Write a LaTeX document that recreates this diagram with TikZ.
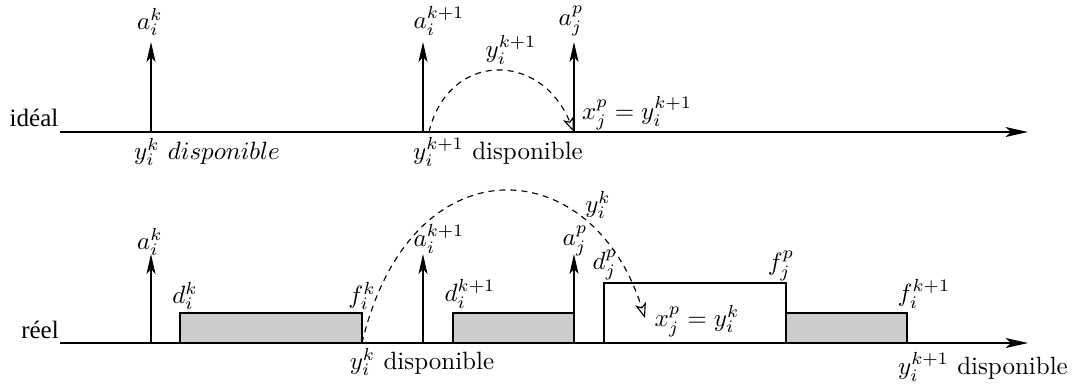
\documentclass[tikz,border=0pt]{standalone}
\usepackage{fontspec}
\newfontfamily\timesfont{Liberation Serif}
\usetikzlibrary{arrows.meta}
\begin{document}
\begin{tikzpicture}[x=0.4pt,y=-0.4pt,
  lbl/.style={inner sep=0pt},
  axisline/.style={line width=0.5pt,-{Stealth[length=9pt,width=4pt,inset=2.2pt]}},
  vert/.style={line width=0.5pt,-{Stealth[length=8pt,width=3.6pt,inset=2pt]}},
  jump/.style={line width=0.45pt,dash pattern=on 2.4pt off 2pt,-{Stealth[open,length=6pt,width=4.5pt,inset=1.5pt]}},
  busy/.style={draw,line width=0.5pt,fill=black!20},
  freebox/.style={draw,line width=0.5pt,fill=white}]
\useasboundingbox (0,0) rectangle (1085,383);
% ---------- ideal ----------
\coordinate (t0) at (60,132);
\coordinate (t1) at (1028,132);
\draw[axisline] (t0) -- (t1);
\node[lbl,font=\timesfont] (ideal) at (34,118) {idéal};
\coordinate (ta1) at (151,132); \coordinate (ta1t) at (151,42);
\coordinate (ta2) at (423,132); \coordinate (ta2t) at (423,42);
\coordinate (ta3) at (574,132); \coordinate (ta3t) at (574,42);
\draw[vert] (ta1) -- (ta1t);
\draw[vert] (ta2) -- (ta2t);
\draw[vert] (ta3) -- (ta3t);
\node[lbl] (tl1) at (150,22) {$a_i^k$};
\node[lbl] (tl2) at (439,21) {$a_i^{k+1}$};
\node[lbl] (tl3) at (571,21) {$a_j^p$};
\coordinate (tj0) at (429,132);
\draw[jump] (tj0) .. controls (448,52) and (540,50) .. (ta3);
\node[lbl] (tyl) at (511,50) {$y_i^{k+1}$};
\node[lbl] (txl) at (637,113) {$x_j^p = y_i^{k+1}$};
\node[lbl] (td1) at (207,152) {$y_i^k~disponible$};
\node[lbl] (td2) at (498,152) {$y_i^{k+1}$ disponible};
% ---------- reel ----------
\path[busy] (180,313) rectangle (362,343);
\path[busy] (453,313) rectangle (574,343);
\path[freebox] (604,283) rectangle (786,343);
\path[busy] (786,313) rectangle (907,343);
\coordinate (b0) at (60,343);
\coordinate (b1) at (1028,343);
\draw[axisline] (b0) -- (b1);
\node[lbl,font=\timesfont] (reel) at (40,330) {réel};
\coordinate (ba1) at (151,343); \coordinate (ba1t) at (151,254);
\coordinate (ba2) at (423,343); \coordinate (ba2t) at (423,254);
\coordinate (ba3) at (574,343); \coordinate (ba3t) at (574,254);
\draw[vert] (ba1) -- (ba1t);
\draw[vert] (ba2) -- (ba2t);
\draw[vert] (ba3) -- (ba3t);
\node[lbl] (bl1) at (150,242) {$a_i^k$};
\node[lbl] (bl2) at (439,239) {$a_i^{k+1}$};
\node[lbl] (bl3) at (575,241) {$a_j^p$};
\node[lbl] (dk) at (185,296) {$d_i^k$};
\node[lbl] (fk) at (362,296) {$f_i^k$};
\node[lbl] (dk1) at (470,294) {$d_i^{k+1}$};
\node[lbl] (dp) at (605,265) {$d_j^p$};
\node[lbl] (fp) at (781,266) {$f_j^p$};
\node[lbl] (fk1) at (924,294) {$f_i^{k+1}$};
\coordinate (bj0) at (362,343);
\coordinate (bj1) at (645,318);
\draw[jump] (bj0) .. controls (410,140) and (592,150) .. (bj1);
\node[lbl] (byl) at (598,205) {$y_i^k$};
\node[lbl] (bxl) at (697,321) {$x_j^p = y_i^k$};
\node[lbl] (bd1) at (422,362) {$y_i^k$ disponible};
\node[lbl] (bd2) at (983,367) {$y_i^{k+1}$ disponible};
\end{tikzpicture}
\end{document}
